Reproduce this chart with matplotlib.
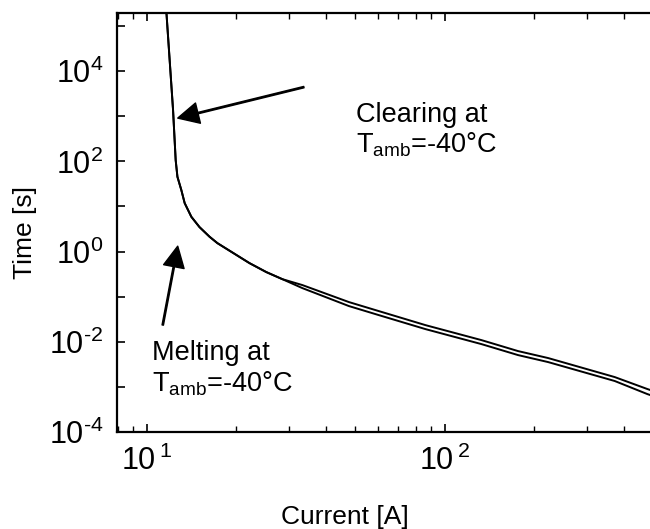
import numpy as np
import matplotlib
matplotlib.use("Agg")
import matplotlib.pyplot as plt
from matplotlib.ticker import LogLocator, FuncFormatter, NullFormatter, NullLocator

plt.rcParams["font.family"] = ["Liberation Sans", "DejaVu Sans"]
plt.rcParams["mathtext.fontset"] = "custom"
plt.rcParams["mathtext.rm"] = "Liberation Sans"
plt.rcParams["mathtext.it"] = "Liberation Sans:italic"
plt.rcParams["mathtext.bf"] = "Liberation Sans:bold"

# Time-current characteristic of the fuse at -40 degC ambient
current_A = [11.46, 11.64, 12.25, 12.50, 12.67, 13.06, 13.40, 14.11, 15.03,
             16.25, 17.26, 22.11, 25.2, 28.51, 33.3, 47.75, 60.1,
             86.3, 133.0, 176.6, 222.8, 373.0, 480.8, 520.0]
melting_s = [1.0e6, 1.94e5, 1371, 106.9, 45.6, 23.1, 11.9, 5.91, 3.49,
             2.13, 1.54, 0.556, 0.351, 0.245, 0.155, 0.0619, 0.0391,
             0.0191, 0.00889, 0.00507, 0.00355, 0.00135, 0.00069, 0.00058]
clearing_s = [1.0e6, 1.94e5, 1371, 106.9, 45.6, 23.1, 11.9, 5.91, 3.49,
              2.13, 1.54, 0.556, 0.351, 0.245, 0.181, 0.0759, 0.048,
              0.0234, 0.0109, 0.00622, 0.00436, 0.00165, 0.000893, 0.00075]

x_limits = (7.94, 490.0)
y_limits = (1e-4, 1.95e5)

fig = plt.figure(figsize=(6.5, 5.29), dpi=100)
ax = fig.add_axes([0.18, 0.1834, 0.82, 0.792])

ax.plot(current_A, clearing_s, color="black", lw=1.4, solid_joinstyle="round")
ax.plot(current_A, melting_s, color="black", lw=1.4, solid_joinstyle="round")

ax.set_xscale("log")
ax.set_yscale("log")
ax.set_xlim(*x_limits)
ax.set_ylim(*y_limits)

for side in ("left", "bottom", "top"):
    ax.spines[side].set_linewidth(1.6)
ax.spines["right"].set_visible(False)

ax.xaxis.set_major_locator(LogLocator(base=10, numticks=10))
ax.xaxis.set_minor_locator(LogLocator(base=10, subs=np.arange(2, 10), numticks=10))
ax.xaxis.set_minor_formatter(NullFormatter())
ax.xaxis.set_major_formatter(
    FuncFormatter(lambda v, p: r"$\mathregular{10\,^{%d}}$" % round(np.log10(v))))

ax.yaxis.set_major_locator(LogLocator(base=10, subs=(1.0,), numticks=20))
ax.yaxis.set_minor_locator(NullLocator())


def ytick_label(v, p):
    e = int(round(np.log10(v)))
    if e % 2:
        return ""
    if e < 0:
        return r"$\mathregular{10^{\text{-}%d}}$" % (-e)
    return r"$\mathregular{10^{%d}}$" % e


ax.yaxis.set_major_formatter(FuncFormatter(ytick_label))

ax.tick_params(axis="x", which="both", direction="in", top=True, bottom=True,
               labelsize=22, pad=10)
ax.tick_params(axis="x", which="major", length=6, width=1.2)
ax.tick_params(axis="x", which="minor", length=4, width=1.0)
ax.tick_params(axis="y", which="major", direction="in", left=True, right=False,
               length=6, width=1.2, labelsize=22, pad=10)

ax.set_xlabel("Current [A]", fontsize=19)
ax.set_ylabel("Time [s]", fontsize=19)
ax.xaxis.set_label_coords(0.428, -0.175)
ax.yaxis.set_label_coords(-0.15, 0.477)

# Arrows pointing at the two curves
arrow_kw = dict(facecolor="black", edgecolor="black", width=1.0,
                headwidth=15, headlength=15, shrink=0)
ax.annotate("", xy=(12.7, 912), xytext=(33.7, 4436), arrowprops=arrow_kw)
ax.annotate("", xy=(12.7, 1.32), xytext=(11.31, 0.0235), arrowprops=arrow_kw)

ax.text(0.448, 0.740, "Clearing at", transform=ax.transAxes, fontsize=19.5,
        va="baseline", ha="left")
ax.text(0.448, 0.666, r"T$_{\mathregular{amb}}$=-40°C", transform=ax.transAxes,
        fontsize=19.5, va="baseline", ha="left")
ax.text(0.066, 0.172, "Melting at", transform=ax.transAxes, fontsize=19.5,
        va="baseline", ha="left")
ax.text(0.066, 0.0955, r"T$_{\mathregular{amb}}$=-40°C", transform=ax.transAxes,
        fontsize=19.5, va="baseline", ha="left")

fig.savefig("out.png", dpi=100)
